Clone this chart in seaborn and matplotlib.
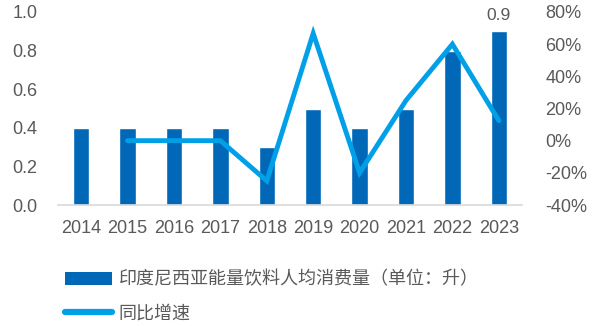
import numpy as np
import pandas as pd
import matplotlib
matplotlib.use("Agg")
import matplotlib.pyplot as plt
import seaborn as sns
from matplotlib.patches import Patch
from matplotlib.lines import Line2D
from matplotlib.ticker import FuncFormatter, FixedLocator

# Data
years = [2014, 2015, 2016, 2017, 2018, 2019, 2020, 2021, 2022, 2023]
consumption = [0.4, 0.4, 0.4, 0.4, 0.3, 0.5, 0.4, 0.5, 0.8, 0.9]
growth = [np.nan, 0.0, 0.0, 0.0, -0.25, 0.667, -0.20, 0.25, 0.60, 0.125]
bar_label = "印度尼西亚能量饮料人均消费量（单位：升）"
line_label = "同比增速"

bar_color = "#0068B7"
line_color = "#00A0E9"
text_color = "#595959"
axis_color = "#D9D9D9"

sns.set_style("white")
plt.rcParams["font.family"] = ["Liberation Sans", "Noto Sans CJK SC", "DejaVu Sans"]

df = pd.DataFrame({"year": years, "consumption": consumption, "growth": growth})

fig = plt.figure(figsize=(6, 3.26), dpi=100)
ax = fig.add_axes([58 / 600, 1 - 205 / 326, 464 / 600, 193 / 326])

sns.barplot(data=df, x="year", y="consumption", native_scale=True, width=0.35,
            color=bar_color, saturation=1, ax=ax)

ax2 = ax.twinx()
sns.lineplot(data=df.dropna(), x="year", y="growth", color=line_color, linewidth=3.5,
             ax=ax2, solid_capstyle="round", solid_joinstyle="miter")

# last value label
ax.annotate(f"{consumption[-1]}", xy=(years[-1], consumption[-1]), xytext=(0, 6),
            textcoords="offset points", ha="center", va="bottom",
            fontsize=12.5, color=text_color)

ax.set_xlim(years[0] - 0.5, years[-1] + 0.5)
ax.set_ylim(0, 1.0)
ax.set_yticks(np.arange(0, 1.01, 0.2))
ax.yaxis.set_major_formatter(FuncFormatter(lambda v, p: f"{v:.1f}"))
ax2.set_ylim(-0.4, 0.8)
ax2.set_yticks(np.arange(-0.4, 0.81, 0.2))
ax2.yaxis.set_major_formatter(FuncFormatter(lambda v, p: f"{v * 100:.0f}%"))

ax.set_xticks(years)
ax.set_xticklabels([str(y) for y in years])
ax.xaxis.set_minor_locator(FixedLocator(np.arange(years[0] - 0.5, years[-1] + 0.51, 1)))

for a in (ax, ax2):
    a.set_xlabel("")
    a.set_ylabel("")
    for s in a.spines.values():
        s.set_visible(False)
    a.grid(False)

ax.spines["bottom"].set_visible(True)
ax.spines["bottom"].set_color(axis_color)
ax.spines["bottom"].set_linewidth(1.2)

ax.tick_params(axis="x", which="major", length=0, pad=11, labelsize=13, labelcolor=text_color)
ax.tick_params(axis="x", which="minor", direction="in", length=5, width=1.2, color=axis_color)
ax.tick_params(axis="y", length=0, pad=15, labelsize=13, labelcolor=text_color)
ax2.tick_params(axis="y", length=0, pad=17, labelsize=13, labelcolor=text_color)

handles = [
    Patch(facecolor=bar_color, edgecolor="none", label=bar_label),
    Line2D([0], [0], color=line_color, linewidth=4.5, solid_capstyle="round", label=line_label),
]
leg = fig.legend(handles=handles, loc="upper left", bbox_to_anchor=(58 / 600, 1 - 264 / 326),
                 frameon=False, fontsize=13, handlelength=2.6, handletextpad=0.35,
                 labelspacing=0.95, borderaxespad=0)
for t in leg.get_texts():
    t.set_color(text_color)

fig.savefig("out.png", dpi=100)
